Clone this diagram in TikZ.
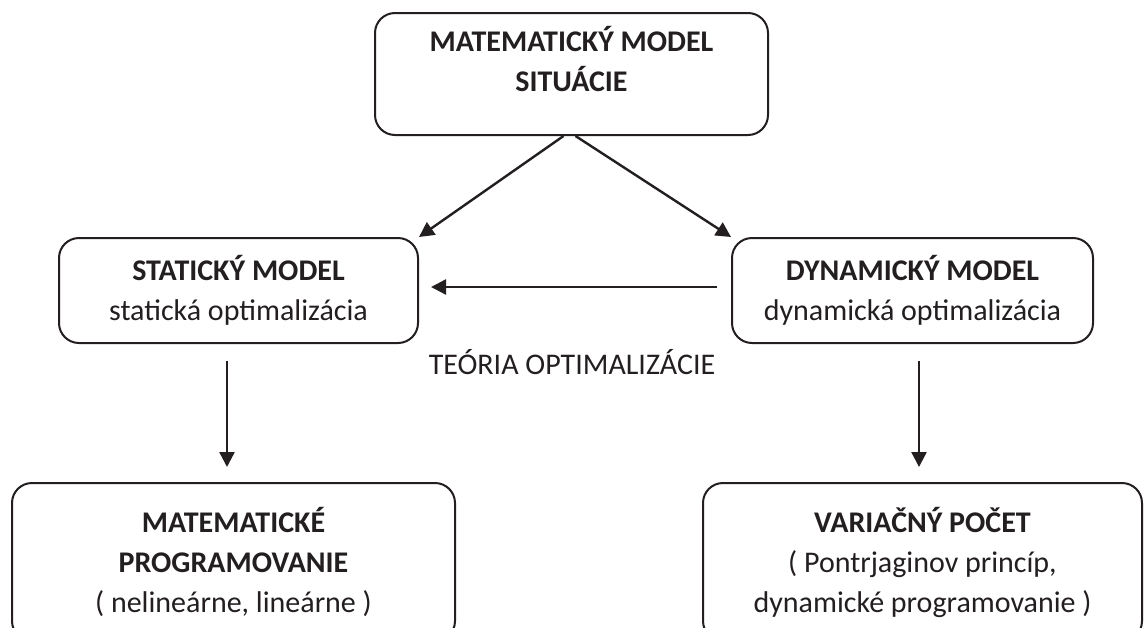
\documentclass[tikz,border=0pt]{standalone}
\usepackage{fontspec}
\setmainfont{Carlito}
\usepackage{xcolor}
\usetikzlibrary{arrows.meta}

\definecolor{ink}{HTML}{231F20}

\begin{document}
\begin{tikzpicture}[
    x=0.5pt, y=-0.5pt,
    box/.style={
        rectangle,
        rounded corners=10pt,
        draw=ink,
        line width=1pt,
        text=ink,
        align=center,
        font=\fontsize{15}{20}\selectfont
    },
    arrow/.style={
        -{Triangle[length=7.5pt,width=7.5pt]},
        draw=ink,
        line width=1.2pt
    }
]

\clip (0,0) rectangle (1144,627);
\fill[white] (0,0) rectangle (1144,627);

\node[box, minimum width=196.5pt, minimum height=61pt] (situacia) at (571.5,74)
{\textbf{MATEMATICKÝ MODEL}\\\textbf{SITUÁCIE}\\[-5pt]};

\node[box, minimum width=179.5pt, minimum height=52.5pt] (staticky) at (238.5,290.5)
{\textbf{STATICKÝ MODEL}\\statická optimalizácia};

\node[box, minimum width=180.5pt, minimum height=52.5pt] (dynamicky) at (912.5,290.5)
{\textbf{DYNAMICKÝ MODEL}\\dynamická optimalizácia};

\node[box, minimum width=221.5pt, minimum height=79pt] (programovanie) at (233.5,562)
{\textbf{MATEMATICKÉ}\\\textbf{PROGRAMOVANIE}\\( nelineárne, lineárne )};

\node[box, minimum width=219.5pt, minimum height=79pt] (variacny) at (922.5,562)
{\textbf{VARIAČNÝ POČET}\\( Pontrjaginov princíp,\\dynamické programovanie )};

\node[text=ink, font=\fontsize{15}{20}\selectfont] (teoria) at (572,362)
{TEÓRIA OPTIMALIZÁCIE};

\draw[arrow] ([xshift=-4pt]situacia.south) -- (staticky.north east);
\draw[arrow] ([xshift=2pt]situacia.south) -- (dynamicky.north west);
\draw[arrow, shorten <=7pt, shorten >=6pt]
    ([yshift=1.75pt]dynamicky.west) -- ([yshift=1.75pt]staticky.east);
\draw[arrow, shorten <=8.5pt, shorten >=7.5pt]
    ([xshift=-5.75pt]staticky.south) -- ([xshift=-5.75pt]staticky.south |- programovanie.north);
\draw[arrow, shorten <=8.5pt, shorten >=7.5pt]
    ([xshift=3.25pt]dynamicky.south) -- ([xshift=3.25pt]dynamicky.south |- variacny.north);

\end{tikzpicture}
\end{document}
